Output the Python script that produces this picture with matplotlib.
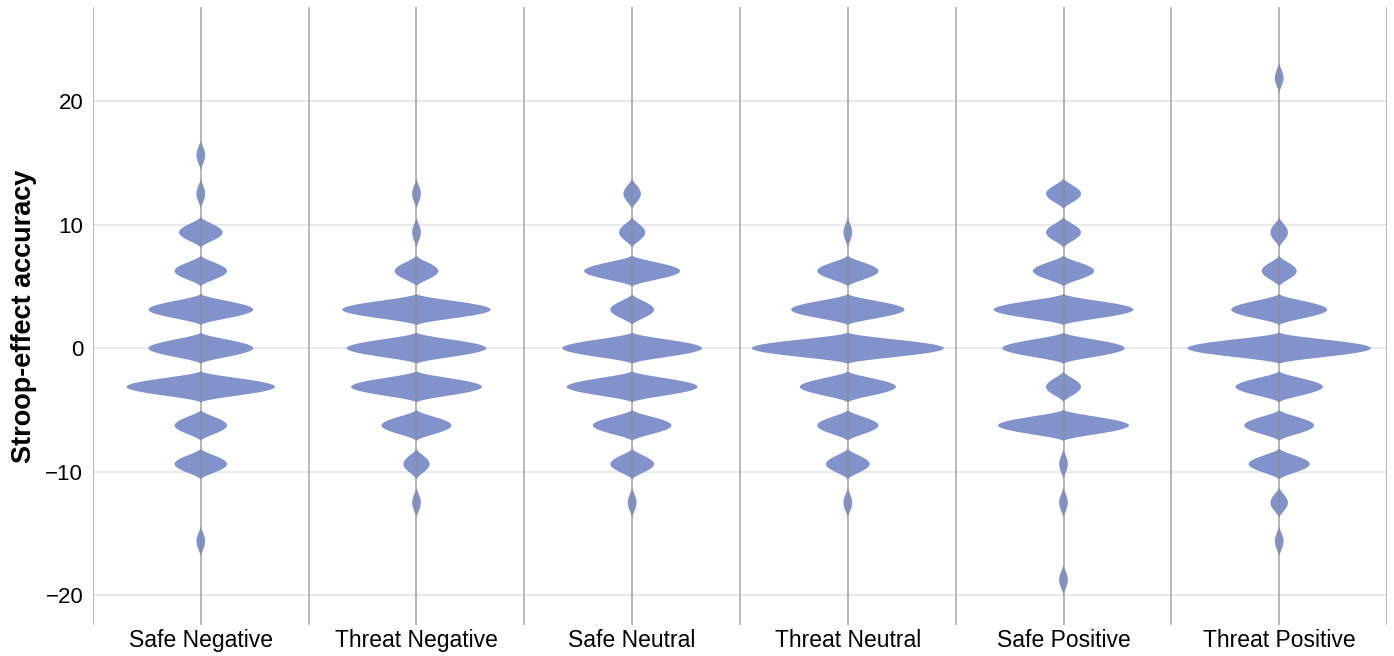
#!/usr/bin/env python3
"""
Stroop-effect accuracy by condition, drawn as narrow-bandwidth violins
"""
import numpy as np
import matplotlib

matplotlib.use("Agg")
import matplotlib.pyplot as plt

# Score levels (the task scores in steps of 3.125)
levels = [-18.75, -15.625, -12.5, -9.375, -6.25, -3.125, 0.0,
          3.125, 6.25, 9.375, 12.5, 15.625, 18.75, 21.875]

conditions = ["Safe Negative", "Threat Negative", "Safe Neutral",
              "Threat Neutral", "Safe Positive", "Threat Positive"]

# Number of participants at each level (same order as levels)
safe_negative = [0, 1, 0, 6, 6, 17, 12, 12, 6, 5, 1, 1, 0, 0]
threat_negative = [0, 0, 1, 3, 8, 15, 16, 17, 5, 1, 1, 0, 0, 0]
safe_neutral = [0, 0, 1, 5, 9, 15, 16, 5, 11, 3, 2, 0, 0, 0]
threat_neutral = [0, 0, 1, 5, 7, 11, 22, 13, 7, 1, 0, 0, 0, 0]
safe_positive = [1, 0, 1, 1, 15, 4, 14, 16, 7, 4, 4, 0, 0, 0]
threat_positive = [0, 1, 2, 7, 8, 10, 21, 11, 4, 2, 0, 0, 0, 1]

yticks = [-20, -10, 0, 10, 20]

VIOLIN_COLOR = "#8293CB"
LINE_COLOR = "#a6a6a6"
GRID_COLOR = "#e4e4e4"
BANDWIDTH = 1.3      # biweight kernel half-support, in score units
HALF_WIDTH = 0.445   # half width of the widest violin, in category units


def kde(counts, ys):
    """Biweight kernel density on the grid ys, weighted by counts"""
    lv = np.asarray(levels)[:, None]
    c = np.asarray(counts, dtype=float)[:, None]
    u = (ys[None, :] - lv) / BANDWIDTH
    k = np.where(np.abs(u) < 1, (1 - u**2) ** 2, 0.0)
    return (c * k).sum(axis=0)


def main():
    all_counts = [safe_negative, threat_negative, safe_neutral,
                  threat_neutral, safe_positive, threat_positive]

    ys = np.linspace(min(levels) - 2, max(levels) + 2, 4000)
    densities = [kde(c, ys) for c in all_counts]
    peak = max(d.max() for d in densities)

    fig = plt.figure(figsize=(13.94, 6.56), dpi=100)
    ax = fig.add_axes([0.0667, 0.0473, 0.9283, 0.9417])

    # horizontal grid
    for t in yticks:
        ax.axhline(t, color=GRID_COLOR, linewidth=1.1, zorder=0)

    # separators between conditions
    for i in range(len(conditions) + 1):
        ax.axvline(i - 0.5, color=LINE_COLOR, linewidth=1.1, zorder=1)

    for i, dens in enumerate(densities):
        half = dens / peak * HALF_WIDTH
        ax.fill_betweenx(ys, i - half, i + half, where=half > 0,
                         color=VIOLIN_COLOR, linewidth=0, zorder=2)
        # center line through each violin
        ax.axvline(i, color="#8c8c8c", linewidth=1.1, alpha=0.8, zorder=3)

    ax.set_xlim(-0.5, len(conditions) - 0.5)
    ax.set_ylim(-22.4, 27.6)

    ax.set_xticks(range(len(conditions)))
    ax.set_xticklabels(conditions, fontsize=16.5, family="Liberation Sans")
    ax.set_yticks(yticks)
    ax.set_yticklabels([f"{t}".replace("-", "\u2212") for t in yticks],
                       fontsize=16, family="Liberation Sans")
    ax.tick_params(axis="both", length=0)
    ax.tick_params(axis="y", pad=7)
    ax.tick_params(axis="x", pad=3)

    for side in ["top", "right", "bottom", "left"]:
        ax.spines[side].set_visible(False)

    ax.set_ylabel("Stroop-effect accuracy", fontsize=19.5, fontweight="bold",
                  family="Liberation Sans")
    ax.yaxis.set_label_coords(-0.0433, 0.5)

    plt.savefig("out.png", dpi=100)
    plt.close()


if __name__ == "__main__":
    main()
